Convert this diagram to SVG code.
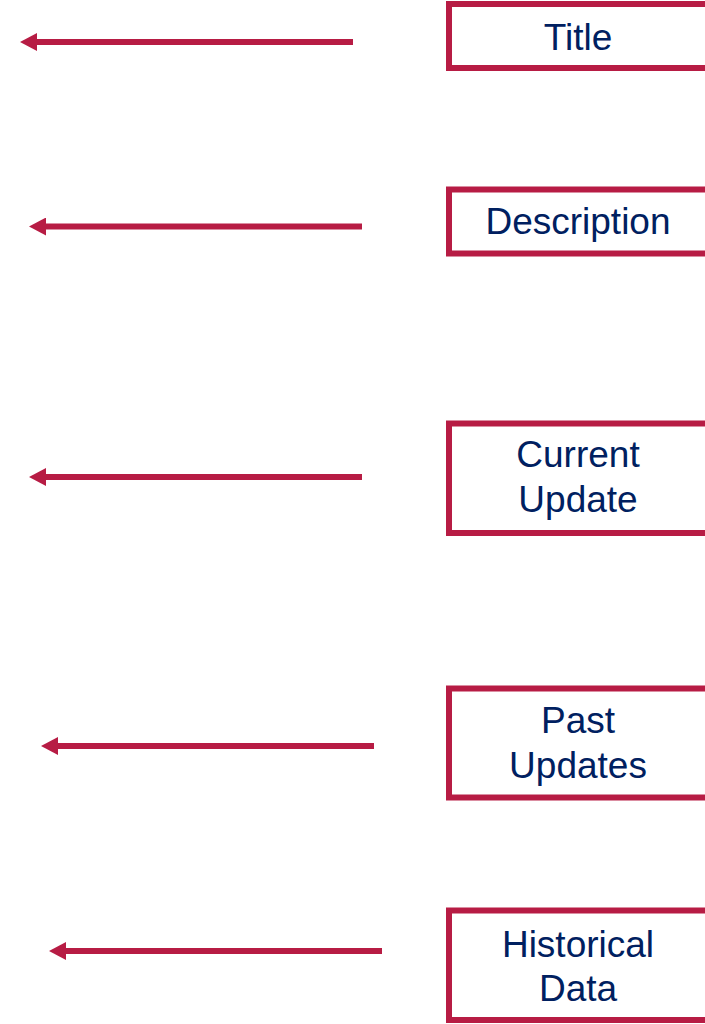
<svg xmlns="http://www.w3.org/2000/svg" width="705" height="1024" viewBox="0 0 705 1024">
  <style>
    .box { fill: #ffffff; stroke: #B71C44; stroke-width: 6; }
    .lbl { font-family: "Liberation Sans", Arial, sans-serif; font-size: 37px; fill: #002060; text-anchor: middle; }
    .conn { stroke: #B71C44; stroke-width: 6; fill: none; marker-end: url(#arrow); }
  </style>
  <defs>
    <marker id="arrow" markerUnits="userSpaceOnUse" markerWidth="17" markerHeight="18" refX="7" refY="9" orient="auto" viewBox="0 0 17 18">
      <path d="M0,0 L17,9 L0,18 z" fill="#B71C44"/>
    </marker>
  </defs>
  <rect width="705" height="1024" fill="#ffffff"/>
  <g id="connectors">
    <line class="conn" x1="353" y1="42" x2="30" y2="42"/>
    <line class="conn" x1="362" y1="226.5" x2="39" y2="226.5"/>
    <line class="conn" x1="362" y1="477" x2="39" y2="477"/>
    <line class="conn" x1="374" y1="746" x2="51" y2="746"/>
    <line class="conn" x1="382" y1="951" x2="59" y2="951"/>
  </g>
  <g id="title">
    <rect class="box" x="449" y="4" width="262" height="64"/>
    <text class="lbl" x="578" y="50">Title</text>
  </g>
  <g id="description">
    <rect class="box" x="449" y="189.5" width="262" height="64"/>
    <text class="lbl" x="578" y="234">Description</text>
  </g>
  <g id="current-update">
    <rect class="box" x="449" y="423.5" width="262" height="109.5"/>
    <text class="lbl" x="578" y="467">Current</text>
    <text class="lbl" x="578" y="512">Update</text>
  </g>
  <g id="past-updates">
    <rect class="box" x="449" y="688.5" width="262" height="109"/>
    <text class="lbl" x="578" y="733">Past</text>
    <text class="lbl" x="578" y="778">Updates</text>
  </g>
  <g id="historical-data">
    <rect class="box" x="449" y="910.5" width="262" height="109.5"/>
    <text class="lbl" x="578" y="957">Historical</text>
    <text class="lbl" x="578" y="1001">Data</text>
  </g>
</svg>
